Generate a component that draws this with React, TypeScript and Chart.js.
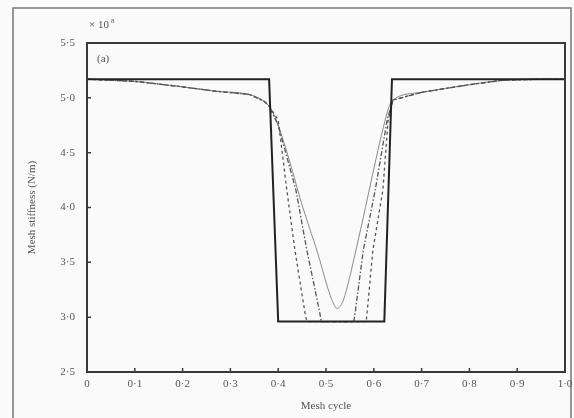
import React, { useEffect, useRef } from "react";
import { Chart, registerables } from "chart.js";
Chart.register(...registerables);

const xTickValues = [0, 0.1, 0.2, 0.3, 0.4, 0.5, 0.6, 0.7, 0.8, 0.9, 1.0];
const xTickLabels = ["0", "0·1", "0·2", "0·3", "0·4", "0·5", "0·6", "0·7", "0·8", "0·9", "1·0"];
const yTickValues = [2.5, 3.0, 3.5, 4.0, 4.5, 5.0, 5.5];
const yTickLabels = ["2·5", "3·0", "3·5", "4·0", "4·5", "5·0", "5·5"];

// shared entry/exit sections of the curved series
const leadX = [0, 0.1, 0.2, 0.27, 0.34, 0.37];
const leadY = [5.17, 5.15, 5.1, 5.06, 5.03, 4.97];
const tailX = [0.64, 0.7, 0.8, 0.87, 0.95, 1.0];
const tailY = [4.98, 5.05, 5.12, 5.16, 5.17, 5.17];

// Series: rectangular (solid black)
const solidX = [0, 0.381, 0.4, 0.622, 0.638, 1.0];
const solidY = [5.17, 5.17, 2.96, 2.96, 5.17, 5.17];

// Series: smooth (thin grey)
const smoothX = [0.385, 0.4, 0.415, 0.43, 0.446, 0.465, 0.483, 0.5, 0.512, 0.523, 0.535, 0.547, 0.56, 0.575, 0.59, 0.605, 0.62, 0.632];
const smoothY = [4.9, 4.75, 4.55, 4.33, 4.08, 3.82, 3.58, 3.32, 3.16, 3.08, 3.14, 3.32, 3.56, 3.85, 4.15, 4.45, 4.73, 4.92];

// Series: outer dashed
const dashAX = [0.38, 0.4, 0.418, 0.435, 0.456, 0.46, 0.584, 0.586, 0.598, 0.619, 0.63];
const dashAY = [4.93, 4.8, 4.16, 3.61, 3.04, 2.96, 2.96, 3.04, 3.61, 4.16, 4.8];

// Series: inner dash-dot
const dashBX = [0.38, 0.4, 0.437, 0.46, 0.487, 0.49, 0.558, 0.561, 0.578, 0.603, 0.628];
const dashBY = [4.93, 4.75, 4.16, 3.61, 3.04, 2.96, 2.96, 3.04, 3.61, 4.16, 4.8];

const pts = (xs: number[], ys: number[]) => xs.map((x, i) => ({ x, y: ys[i] }));
const withEnds = (xs: number[], ys: number[]) =>
  pts([...leadX, ...xs, ...tailX], [...leadY, ...ys, ...tailY]);

const FONT = "'Liberation Serif', 'DejaVu Serif', serif";
const INK = "#3a3a3a";

const decor = {
  id: "decor",
  beforeDraw(chart: any) {
    const { ctx, width, height } = chart;
    ctx.save();
    ctx.fillStyle = "#fafafa";
    ctx.fillRect(0, 0, width, height);
    ctx.strokeStyle = "#777";
    ctx.lineWidth = 1.5;
    ctx.strokeRect(13, 8, width - 16, height + 20);
    ctx.restore();
  },
  afterDraw(chart: any) {
    const { ctx, chartArea: a, scales } = chart;
    ctx.save();
    ctx.strokeStyle = INK;
    ctx.lineWidth = 1.5;
    ctx.beginPath();
    xTickValues.forEach((v) => {
      const px = scales.x.getPixelForValue(v);
      ctx.moveTo(px, a.bottom);
      ctx.lineTo(px, a.bottom - 4);
    });
    yTickValues.forEach((v) => {
      const py = scales.y.getPixelForValue(v);
      ctx.moveTo(a.left, py);
      ctx.lineTo(a.left + 4, py);
    });
    ctx.stroke();
    ctx.lineWidth = 2;
    ctx.strokeRect(a.left, a.top, a.right - a.left, a.bottom - a.top);
    ctx.fillStyle = "#555";
    ctx.font = `11px ${FONT}`;
    ctx.textBaseline = "alphabetic";
    ctx.textAlign = "left";
    ctx.fillText("× 10", a.left + 2, a.top - 15);
    ctx.font = `7px ${FONT}`;
    ctx.fillText("8", a.left + 24, a.top - 20);
    ctx.font = `11px ${FONT}`;
    ctx.fillText("(a)", a.left + 10, a.top + 19);
    ctx.restore();
  },
};

export default function App() {
  const ref = useRef<HTMLCanvasElement | null>(null);
  useEffect(() => {
    if (!ref.current) return;
    const chart = new Chart(ref.current, {
      type: "line",
      data: {
        datasets: [
          {
            label: "Rectangular",
            data: pts(solidX, solidY),
            borderColor: "#222",
            borderWidth: 2,
            pointRadius: 0,
            order: 0,
          },
          {
            label: "Smooth",
            data: withEnds(smoothX, smoothY),
            borderColor: "#8a8a8a",
            borderWidth: 1,
            pointRadius: 0,
            cubicInterpolationMode: "monotone",
            order: 3,
          },
          {
            label: "Dashed",
            data: withEnds(dashAX, dashAY),
            borderColor: "#555",
            borderWidth: 1.3,
            borderDash: [3, 3],
            pointRadius: 0,
            order: 2,
          },
          {
            label: "Dash-dot",
            data: withEnds(dashBX, dashBY),
            borderColor: "#555",
            borderWidth: 1.3,
            borderDash: [5, 2, 1.5, 2],
            pointRadius: 0,
            order: 1,
          },
        ],
      },
      options: {
        responsive: false,
        animation: false,
        layout: { padding: { left: 0, top: 43, right: 9, bottom: 0 } },
        plugins: { legend: { display: false }, tooltip: { enabled: false } },
        scales: {
          x: {
            type: "linear",
            min: 0,
            max: 1,
            afterBuildTicks: (s: any) => {
              s.ticks = xTickValues.map((v) => ({ value: v }));
            },
            afterFit: (s: any) => {
              s.height = 46;
              s.paddingLeft = 0;
              s.paddingRight = 0;
            },
            ticks: {
              padding: 6,
              color: "#555",
              font: { family: FONT, size: 11 },
              maxRotation: 0,
              autoSkip: false,
              callback: (v: any) => xTickLabels[xTickValues.findIndex((t) => Math.abs(t - v) < 1e-6)] ?? "",
            },
            grid: { display: false, drawTicks: false },
            border: { display: false },
            title: {
              display: true,
              text: "Mesh cycle",
              color: "#555",
              font: { family: FONT, size: 11 },
              padding: { top: 0, bottom: 5 },
            },
          },
          y: {
            type: "linear",
            min: 2.5,
            max: 5.5,
            afterBuildTicks: (s: any) => {
              s.ticks = yTickValues.map((v) => ({ value: v }));
            },
            afterFit: (s: any) => {
              s.width = 87;
              s.paddingTop = 0;
              s.paddingBottom = 0;
            },
            ticks: {
              padding: 12,
              color: "#555",
              font: { family: FONT, size: 11 },
              callback: (v: any) => yTickLabels[yTickValues.findIndex((t) => Math.abs(t - v) < 1e-6)] ?? "",
            },
            grid: { display: false, drawTicks: false },
            border: { display: false },
            title: {
              display: true,
              text: "Mesh stiffness (N/m)",
              color: "#555",
              font: { family: FONT, size: 11 },
              padding: { top: 26, bottom: 0 },
            },
          },
        },
      },
      plugins: [decor],
    });
    return () => chart.destroy();
  }, []);
  return (
    <div style={{ position: "absolute", left: 0, top: 0, width: 574, height: 418 }}>
      <canvas ref={ref} width={574} height={418} />
    </div>
  );
}
